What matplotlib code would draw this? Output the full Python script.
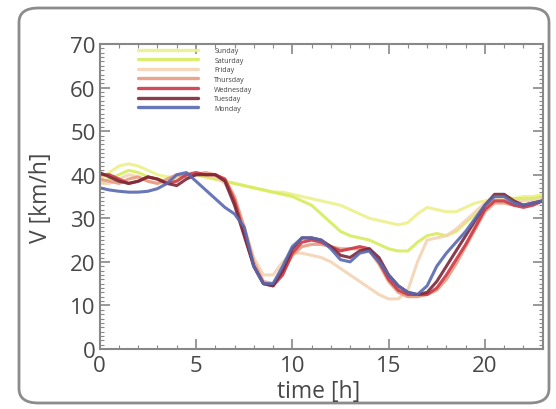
import numpy as np
import matplotlib
matplotlib.use("Agg")
import matplotlib.pyplot as plt
from matplotlib.patches import FancyBboxPatch
from matplotlib.ticker import MultipleLocator

plt.rcParams['font.family'] = ['Open Sans', 'DejaVu Sans']

hours = [i * 0.5 for i in range(47)]

sunday = [39, 40.5, 42, 42.5, 42, 41, 40, 39.5, 39.5, 40, 40, 39.5, 39, 38.5, 38, 37.5,
          37, 36.5, 36, 36, 35.5, 35, 34.5, 34, 33.5, 33, 32, 31, 30, 29.5, 29, 28.5,
          29, 31, 32.5, 32, 31.5, 31.5, 32.5, 33.5, 34, 34.5, 34.5, 34.5, 35, 35, 35.5]
saturday = [38, 39, 40, 41, 40.5, 39.5, 39, 38.5, 39, 40, 40, 39.5, 39, 38.5, 38, 37.5,
            37, 36.5, 36, 35.5, 35, 34, 33, 31, 29, 27, 26, 25.5, 25, 24, 23, 22.5,
            22.5, 24.5, 26, 26.5, 26, 27, 29, 31, 33, 34.5, 35, 34.5, 34.5, 34.5, 35]
friday = [38, 38, 39, 40, 39.5, 38.5, 38, 38.5, 39.5, 40, 40, 40, 39.5, 38, 34, 28,
          21, 17, 17, 20, 22, 22, 21.5, 21, 20, 18.5, 17, 15.5, 14, 12.5, 11.5, 11.5,
          13.5, 20, 25, 25.5, 26, 27.5, 29.5, 31.5, 33.5, 34.5, 34.5, 34, 34, 34, 34.5]
thursday = [39, 38.5, 38, 39, 39.5, 38.5, 38, 39, 40, 39.5, 40, 40.5, 40, 39, 35, 28,
            20, 15.5, 15, 17.5, 21.5, 23.5, 24, 24, 23.5, 23, 23, 23, 22.5, 19.5, 15.5, 13,
            12, 12, 12.5, 13.5, 16, 19.5, 23.5, 27.5, 31.5, 33.5, 33.5, 33, 33, 33.5, 34]
wednesday = [40, 40, 39, 38, 38.5, 39.5, 39, 38, 38.5, 40, 40.5, 40, 40, 39, 34, 26.5,
             19, 15, 14.5, 17, 22, 24.5, 25, 24.5, 23.5, 22.5, 23, 23.5, 23, 20, 16, 13.5,
             12.5, 12.5, 12.5, 14, 17, 20.5, 24, 28, 32, 34, 34, 33, 32.5, 33, 34]
tuesday = [40.5, 39.5, 38.5, 38, 38.5, 39.5, 39, 38, 37.5, 39, 40, 40, 40, 38.5, 33, 26,
           19, 15, 14.5, 18, 23, 25.5, 25.5, 25, 23.5, 21.5, 21, 22.5, 23, 21, 17, 14.5,
           13, 12.5, 13, 15.5, 19, 22.5, 26, 29.5, 33, 35.5, 35.5, 34, 33, 33.5, 34]
monday = [37, 36.5, 36.2, 36, 36, 36.2, 36.8, 38, 40, 40.5, 38.5, 36.5, 34.5, 32.5, 31, 28,
          19, 15, 15, 19, 23.5, 25.5, 25.5, 25, 23, 20.5, 20, 22, 22.5, 20, 17, 14.5,
          13, 12.5, 14.5, 19, 22, 24.5, 27, 30, 33, 35, 35, 33.5, 33, 33.5, 34]

labels = ['Sunday', 'Saturday', 'Friday', 'Thursday', 'Wednesday', 'Tuesday', 'Monday']
series = [sunday, saturday, friday, thursday, wednesday, tuesday, monday]
colors = ['#eef08c', '#d8ec5c', '#f4d4b4', '#e89c80', '#cc3848', '#7c2838', '#5868b0']

W, H = 556, 410
fig = plt.figure(figsize=(W / 100, H / 100), dpi=100)
fig.patch.set_facecolor('white')

# rounded frame
frame = FancyBboxPatch((19 / W, 6 / H), (549 - 19) / W, (401 - 6) / H,
                       boxstyle="round,pad=0,rounding_size=0.035",
                       transform=fig.transFigure, facecolor='none',
                       edgecolor='#8c8c8c', linewidth=2.0, zorder=-1)
fig.patches.append(frame)

ax_l, ax_r = 99.7, 542.7
ax_t, ax_b = 45, 350
ax = fig.add_axes([ax_l / W, 1 - ax_b / H, (ax_r - ax_l) / W, (ax_b - ax_t) / H])
ax.set_facecolor('none')

for lab, s, c in zip(labels, series, colors):
    ax.plot(hours, s, color=c, lw=2.2, alpha=0.9, label=lab, solid_capstyle='round',
            solid_joinstyle='round')

ax.set_xlim(0, 23)
ax.set_ylim(0, 70)
ax.xaxis.set_major_locator(MultipleLocator(5))
ax.xaxis.set_minor_locator(MultipleLocator(1))
ax.yaxis.set_major_locator(MultipleLocator(10))
ax.yaxis.set_minor_locator(MultipleLocator(1))

tc = '#888888'
ax.tick_params(which='both', direction='in', top=True, right=True, colors=tc,
               labelcolor='#484848', labelsize=16)
ax.tick_params(axis='x', which='major', pad=4)
ax.tick_params(axis='y', which='major', pad=3)
ax.tick_params(which='major', length=7, width=1.2)
ax.tick_params(which='minor', length=3, width=0.8)
for sp in ax.spines.values():
    sp.set_color(tc)
    sp.set_linewidth(1.5)

ax.set_xlabel('time [h]', fontsize=16.5, color='#484848')
ax.set_ylabel('V [km/h]', fontsize=16.5, color='#484848')
ax.xaxis.set_label_coords(0.495, -0.1)
ax.yaxis.set_label_coords(-0.105, 0.50)

leg = ax.legend(loc='upper left', bbox_to_anchor=((138 - ax_l) / (ax_r - ax_l), (350 - 48) / 305),
                frameon=False, fontsize=5, handlelength=8.6, handletextpad=2.4,
                labelspacing=0.38, borderpad=0, borderaxespad=0)
for t in leg.get_texts():
    t.set_color('#404040')
for l in leg.get_lines():
    l.set_linewidth(2.4)

fig.savefig('out.png', dpi=100)
